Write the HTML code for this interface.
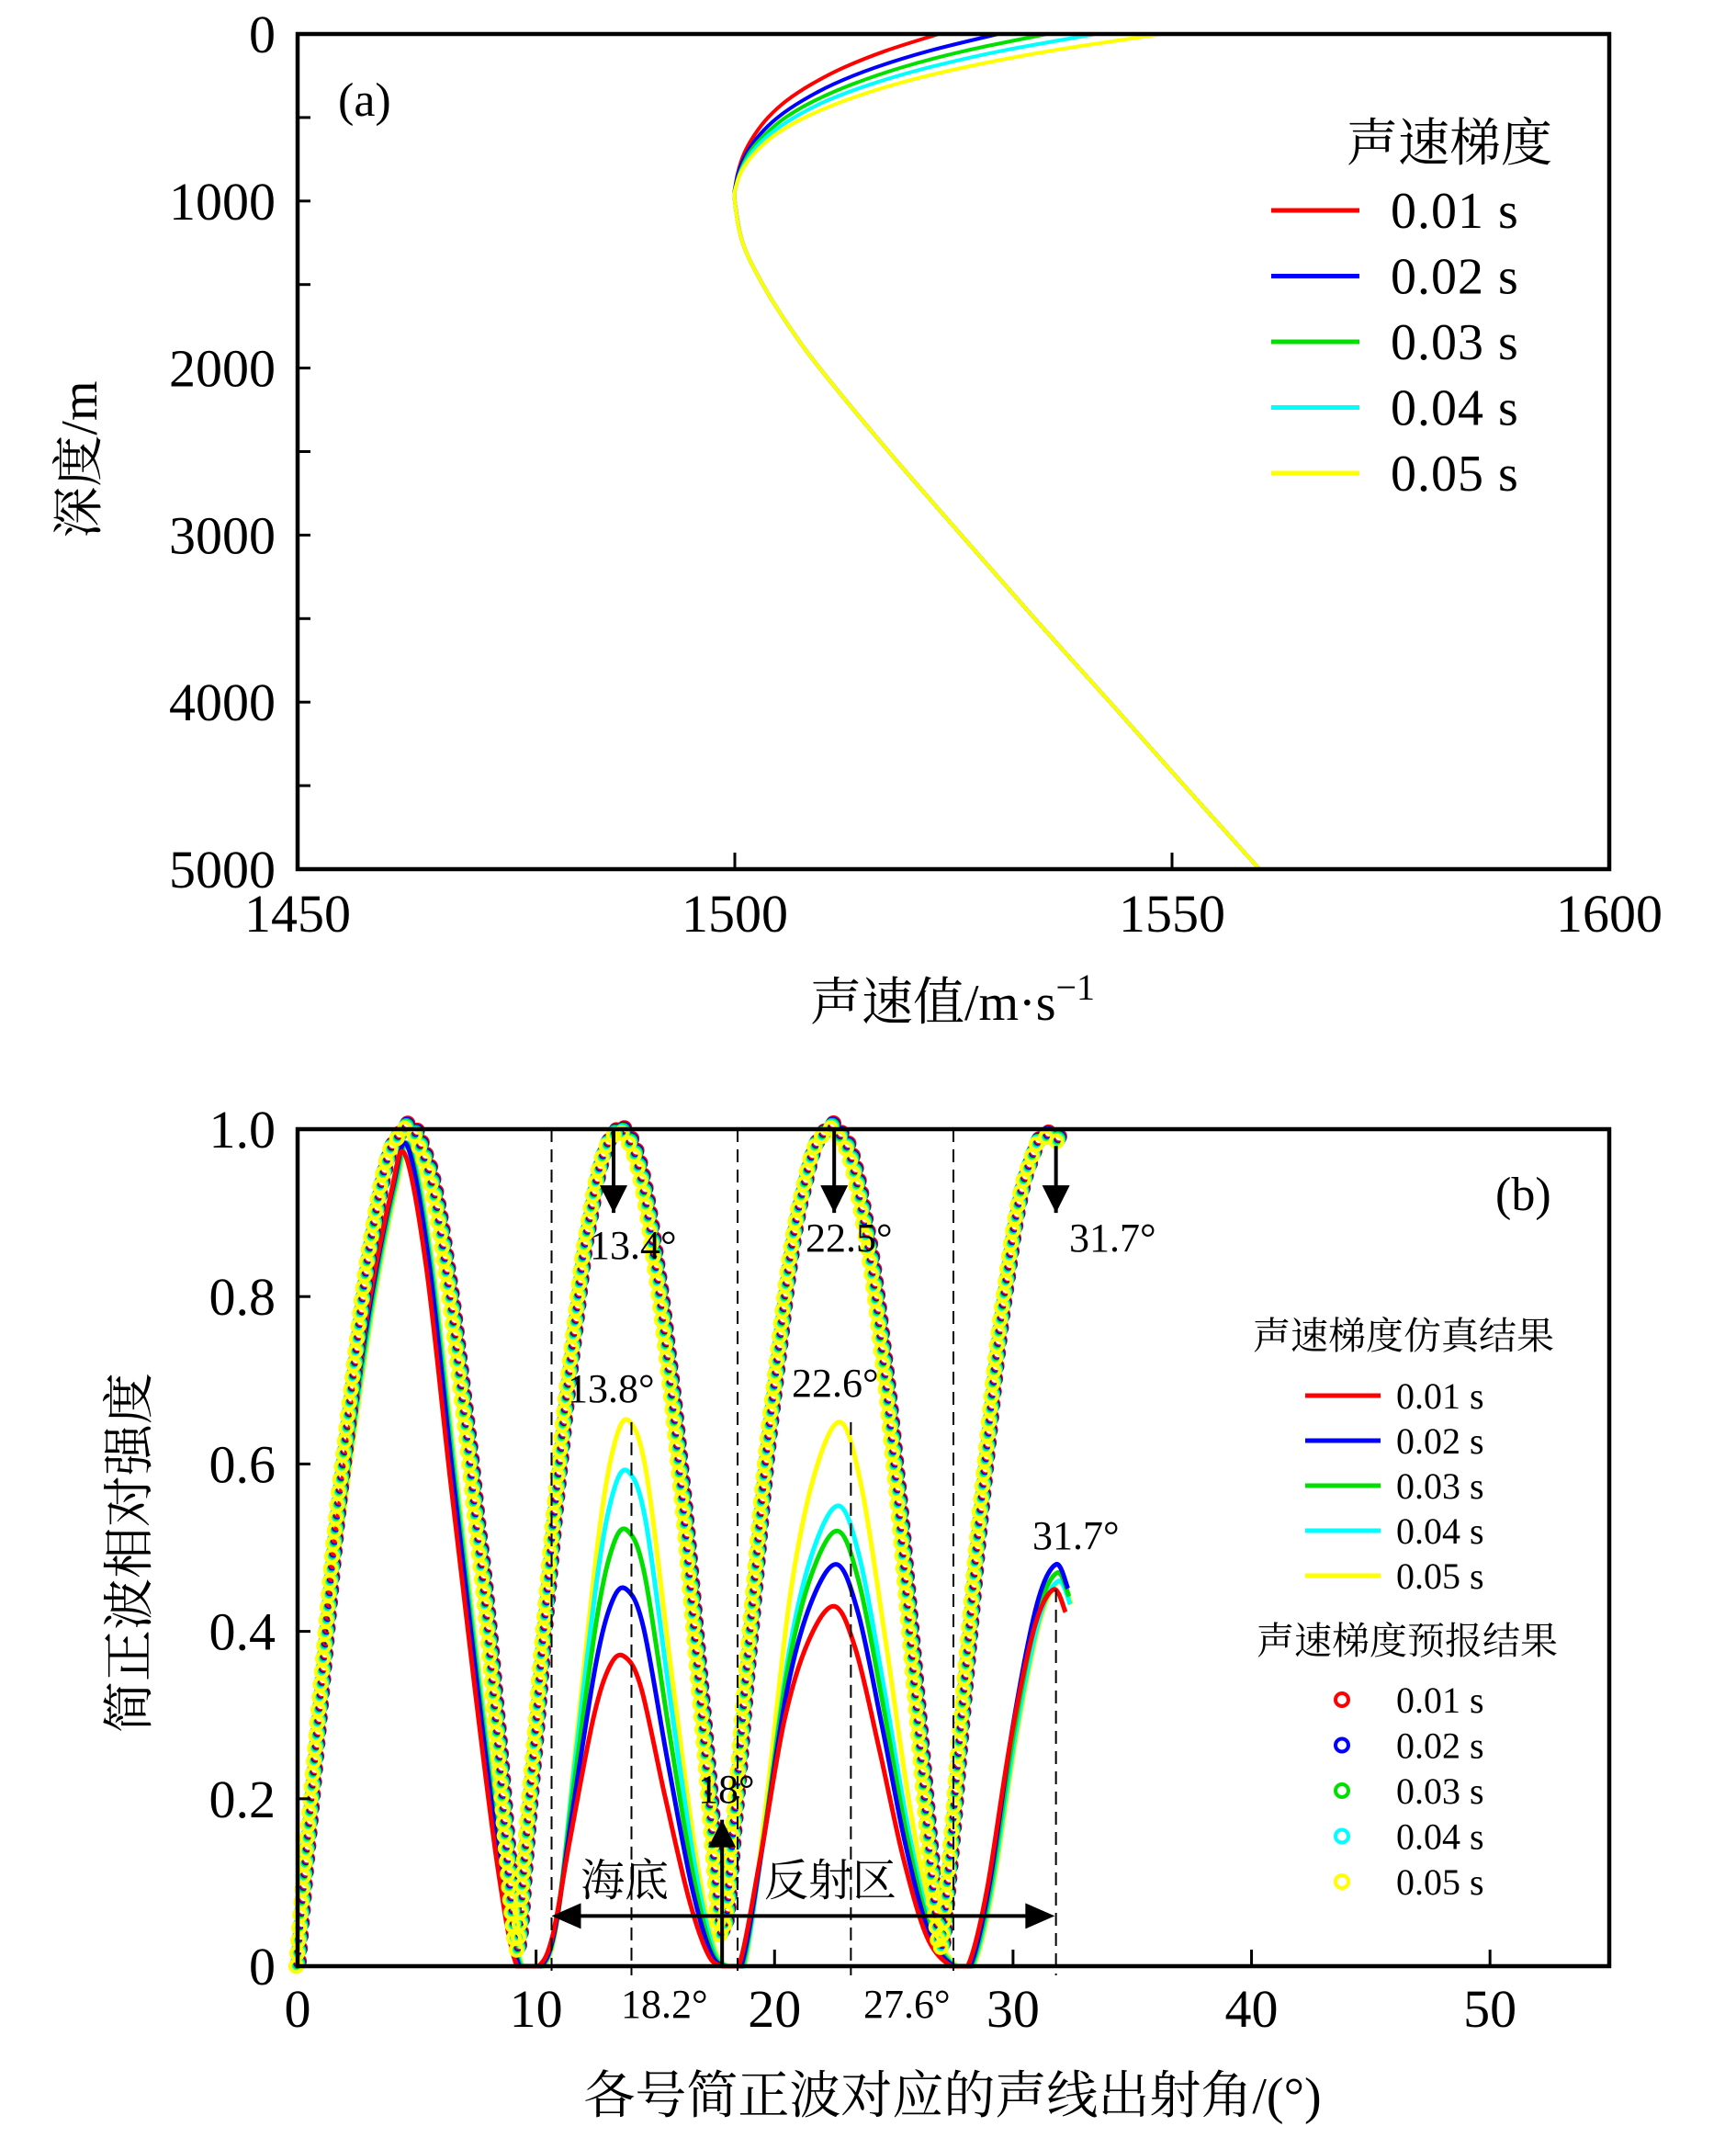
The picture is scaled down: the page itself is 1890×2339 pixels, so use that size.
<!DOCTYPE html>
<html><head><meta charset="utf-8"><style>
html,body{margin:0;padding:0;background:#fff;}
svg{display:block;font-family:"Liberation Serif","Noto Serif CJK SC",serif;}
</style></head><body>
<svg id="fig" width="1890" height="2339" viewBox="0 0 1890 2339" xmlns="http://www.w3.org/2000/svg">
<g id="pa"></g>
<g id="pb"></g>
</svg>
<script>
// ---------- Panel (a) data ----------
const aSeriesNames = ["0.01 s","0.02 s","0.03 s","0.04 s","0.05 s"];
const aColors = ["#ff0000","#0000ff","#00e000","#00ffff","#ffff00"];
const aUpperDepths = [0,100,200,300,400,500,600,700,800,900,1000];
const aUpperRed    = [23.3,17.3,12.5,8.8,5.9,3.8,2.3,1.2,0.5,0.1,0];
const aUpperBlue   = [30.1,22.3,16.1,11.3,7.7,4.9,2.9,1.5,0.6,0.1,0];
const aUpperGreen  = [35.7,26.4,19.1,13.5,9.1,5.8,3.5,1.8,0.8,0.2,0];
const aUpperCyan   = [41.3,30.6,22.2,15.6,10.5,6.8,4.0,2.1,0.9,0.2,0];
const aUpperYellow = [48.9,36.2,26.2,18.4,12.5,8.0,4.7,2.5,1.0,0.2,0];
const aLowerDepths = [1250,1500,1750,2000,2500,3000,3500,4000,4500,5000];
const aLowerSpeedOffset = [0.9,3.2,6.2,9.7,17.6,25.9,34.3,42.9,51.4,60.0];
const aBaseSpeed = 1500;
const aXTicks = [1450,1500,1550,1600];
const aYTicks = [0,1000,2000,3000,4000,5000];

// ---------- Panel (b) data ----------
const bNames = ["0.01 s","0.02 s","0.03 s","0.04 s","0.05 s"];
const bColors = ["#ff0000","#0000ff","#00e000","#00ffff","#ffff00"];
const bCircleX = [0,0.25,0.5,0.75,1,1.25,1.5,1.75,2,2.25,2.5,2.75,3,3.25,3.5,3.75,4,4.25,4.5,4.75,5,5.25,5.5,5.75,6,6.25,6.5,6.75,7,7.25,7.5,7.75,8,8.25,8.5,8.75,9,9.25,9.5,9.75,10,10.25,10.5,10.75,11,11.25,11.5,11.75,12,12.25,12.5,12.75,13,13.25,13.5,13.75,14,14.25,14.5,14.75,15,15.25,15.5,15.75,16,16.25,16.5,16.75,17,17.25,17.5,17.75,18,18.25,18.5,18.75,19,19.25,19.5,19.75,20,20.25,20.5,20.75,21,21.25,21.5,21.75,22,22.25,22.5,22.75,23,23.25,23.5,23.75,24,24.25,24.5,24.75,25,25.25,25.5,25.75,26,26.25,26.5,26.75,27,27.25,27.5,27.75,28,28.25,28.5,28.75,29,29.25,29.5,29.75,30,30.25,30.5,30.75,31,31.25,31.5,31.75,32];
const bCircleY = [0,0.09,0.17,0.25,0.33,0.41,0.49,0.56,0.62,0.68,0.74,0.80,0.85,0.89,0.93,0.96,0.98,0.99,1.0,1.0,0.99,0.97,0.95,0.92,0.88,0.83,0.78,0.72,0.66,0.60,0.53,0.47,0.40,0.32,0.24,0.15,0.07,0.02,0.11,0.20,0.28,0.37,0.45,0.53,0.60,0.67,0.73,0.79,0.85,0.89,0.93,0.96,0.98,0.99,1.0,0.99,0.98,0.96,0.93,0.89,0.84,0.79,0.73,0.67,0.60,0.53,0.45,0.37,0.29,0.21,0.12,0.04,0.06,0.15,0.23,0.32,0.40,0.48,0.56,0.63,0.69,0.75,0.81,0.86,0.90,0.93,0.96,0.98,0.99,1.0,1.0,0.99,0.98,0.96,0.93,0.89,0.85,0.80,0.74,0.68,0.61,0.54,0.46,0.38,0.30,0.22,0.14,0.07,0.02,0.09,0.17,0.26,0.34,0.42,0.50,0.57,0.64,0.71,0.77,0.82,0.87,0.91,0.94,0.96,0.98,0.99,0.99,0.99,0.98];
const bCircleShift = [0.06,0.03,0,-0.03,-0.06];
const bCircleLift = [-0.006,-0.0045,-0.003,-0.0015,0];
const bSimX = [1.1,2,3,4,4.6,5.5,6.5,7.5,8.5,9.3,10.2,10.8,11.5,12.5,13.2,13.8,14.5,15.5,16.5,17.3,17.9,18.6,19.5,20.5,21.5,22.6,23.5,24.5,25.5,26.5,27.5,28.2,29,30,31,31.8,32.3];
const bSimArch = [1,1,1,1,1,1,1,1,1,1,2,2,2,2,2,2,2,2,2,2,2,3,3,3,3,3,3,3,3,3,3,4,4,4,4,4,4];
const bSimShape = [0.39,0.6,0.8,0.95,1.0,0.86,0.6,0.35,0.12,0.0,0.0,0.1,0.4,0.8,0.97,1.0,0.9,0.55,0.22,0.04,0.0,0.0,0.3,0.68,0.9,1.0,0.88,0.6,0.3,0.08,0.0,0.0,0.2,0.6,0.9,1.0,0.94];
const bArch1Peak = [0.97,0.98,0.98,0.98,0.98];
const bArch2Peak = [0.37,0.45,0.52,0.59,0.65];
const bArch3Peak = [0.43,0.48,0.52,0.55,0.65];
const bArch4Peak = [0.45,0.48,0.47,0.46,0.46];
const bSimShift = [-0.1,0,0.05,0.1,0.15];
const bXTicks = [0,10,20,30,40,50];
const bYTicks = [0,0.2,0.4,0.6,0.8,1.0];
const bYTickLabels = ["0","0.2","0.4","0.6","0.8","1.0"];

const NS="http://www.w3.org/2000/svg";
function mk(parent,tag,attrs,text){const e=document.createElementNS(NS,tag);for(const k in attrs)e.setAttribute(k,attrs[k]);if(text!==undefined)e.textContent=text;parent.appendChild(e);return e;}
function splinePath(pts,maxY){let d=`M${pts[0][0]},${pts[0][1]}`;for(let i=0;i<pts.length-1;i++){const p0=pts[Math.max(0,i-1)],p1=pts[i],p2=pts[i+1],p3=pts[Math.min(pts.length-1,i+2)];let c1=[p1[0]+(p2[0]-p0[0])/6,p1[1]+(p2[1]-p0[1])/6],c2=[p2[0]-(p3[0]-p1[0])/6,p2[1]-(p3[1]-p1[1])/6];if(maxY!==undefined){c1[1]=Math.min(c1[1],maxY);c2[1]=Math.min(c2[1],maxY);}d+=` C${c1[0]},${c1[1]} ${c2[0]},${c2[1]} ${p2[0]},${p2[1]}`;}return d;}

// ---------- Panel (a) ----------
const pa=document.getElementById('pa');
const aL=324,aR=1752,aT=37,aB=946;
const ax=v=>aL+(v-1450)/150*(aR-aL);
const ay=d=>aT+d/5000*(aB-aT);
const aUppers=[aUpperRed,aUpperBlue,aUpperGreen,aUpperCyan,aUpperYellow];
const aPlot=mk(pa,'g',{});


for(let s=0;s<5;s++){
  const pts=[];
  aUpperDepths.forEach((d,i)=>pts.push([ax(aBaseSpeed+aUppers[s][i]),ay(d)]));
  aLowerDepths.forEach((d,i)=>pts.push([ax(aBaseSpeed+aLowerSpeedOffset[i]),ay(d)]));
  const p=mk(aPlot,'path',{d:splinePath(pts),fill:'none',stroke:aColors[s],'stroke-width':4});
  
  
}
const aFrame=mk(pa,'rect',{x:aL,y:aT,width:aR-aL,height:aB-aT,fill:'none',stroke:'#000','stroke-width':4.5});


aXTicks.forEach(v=>{
  mk(pa,'line',{x1:ax(v),x2:ax(v),y1:aB,y2:aB-18,stroke:'#000','stroke-width':3});
  const t=mk(pa,'text',{x:ax(v),y:aB+68,'text-anchor':'middle','font-size':58},String(v));
  
  
});
for(let d=0;d<=5000;d+=500){mk(pa,'line',{x1:aL,x2:aL+14,y1:ay(d),y2:ay(d),stroke:'#000','stroke-width':3});}
aYTicks.forEach(v=>{
  const t=mk(pa,'text',{x:300,y:ay(v)+20,'text-anchor':'end','font-size':58},String(v));
  
  
});
let t=mk(pa,'text',{x:368,y:126,'font-size':52},'(a)');

t=mk(pa,'text',{x:1037,y:1110,'text-anchor':'middle','font-size':56},'声速值/m·s');

mk(t,'tspan',{dy:-22,'font-size':40},'−1');
t=mk(pa,'text',{x:0,y:0,'text-anchor':'middle','font-size':56,transform:'translate(105,500) rotate(-90)'},'深度/m');

const aLeg=mk(pa,'g',{});

t=mk(aLeg,'text',{x:1466,y:175,'font-size':56},'声速梯度');

aSeriesNames.forEach((n,i)=>{
  const y=229+i*71.5;
  const g=mk(aLeg,'g',{});
  
  mk(g,'line',{x1:1384,x2:1480,y1:y,y2:y,stroke:aColors[i],'stroke-width':5});
  mk(g,'text',{x:1514,y:y+19,'font-size':56,'letter-spacing':1},n.replace(' ','  '));
});

// ---------- Panel (b) ----------
const pb=document.getElementById('pb');
const bL=324,bR=1752,bT=1229,bB=2140;
const bx=v=>bL+v/55*(bR-bL);
const by=v=>bB-v*(bB-bT);
const peaks=[bArch1Peak,bArch2Peak,bArch3Peak,bArch4Peak];
const simG=mk(pb,'g',{});

for(let s=4;s>=0;s--){
  const pts=bSimX.map((x,i)=>[bx(x+bSimShift[s]),by(bSimShape[i]*peaks[bSimArch[i]-1][s])]);
  const p=mk(simG,'path',{d:splinePath(pts,bB),fill:'none',stroke:bColors[s],'stroke-width':5});
  
}
const circG=mk(pb,'g',{});

for(let s=0;s<5;s++){
  const pts=bCircleX.map((x,i)=>[bx(x+bCircleShift[s]),by(bCircleY[i]-bCircleLift[s])]);
  const guide=mk(circG,'path',{d:splinePath(pts,bB),fill:'none',stroke:'none'});
  const L=guide.getTotalLength();
  for(let l=0;l<=L;l+=14){
    const p=guide.getPointAtLength(l);
    const c=mk(circG,'circle',{cx:p.x,cy:p.y,r:6.5,fill:'none',stroke:bColors[s],'stroke-width':4});
    
    
  }
  guide.remove();
}
const dash=[[10.65,1.0,0],[14.0,0.65,0],[18.45,1.0,0],[23.2,0.65,0],[27.5,1.0,0],[31.8,0.45,0]];
dash.forEach(d=>{const l=mk(pb,'line',{x1:bx(d[0]),x2:bx(d[0]),y1:by(d[1]),y2:by(d[2])+10,stroke:'#000','stroke-width':2,'stroke-dasharray':'14,8'});
});
function arrow(x,y1,y2){mk(pb,'line',{x1:x,x2:x,y1:y1,y2:y2,stroke:'#000','stroke-width':4});const dir=y2>y1?1:-1;mk(pb,'polygon',{points:`${x-15},${y2-dir*30} ${x+15},${y2-dir*30} ${x},${y2}`,fill:'#000'});}
arrow(bx(13.25),by(1.0),by(0.9));
arrow(bx(22.5),by(1.0),by(0.9));
arrow(bx(31.8),by(0.98),by(0.9));
arrow(bx(17.8),by(0),by(0.175));
const ha=by(0.06);
mk(pb,'line',{x1:bx(11),x2:bx(31.3),y1:ha,y2:ha,stroke:'#000','stroke-width':4});
mk(pb,'polygon',{points:`${bx(10.65)},${ha} ${bx(10.65)+32},${ha-14} ${bx(10.65)+32},${ha+14}`,fill:'#000'});
mk(pb,'polygon',{points:`${bx(31.75)},${ha} ${bx(31.75)-32},${ha-14} ${bx(31.75)-32},${ha+14}`,fill:'#000'});
const ann=[["13.4°",642,1370],["22.5°",877,1362],["31.7°",1164,1362],["13.8°",618,1526],["22.6°",862,1520],["31.7°",1124,1686],["18°",760,1962],["18.2°",676,2196],["27.6°",940,2196]];
ann.forEach(a=>{const e=mk(pb,'text',{x:a[1],y:a[2],'font-size':44},a[0]);});
t=mk(pb,'text',{x:632,y:2063,'font-size':48},'海底');
t=mk(pb,'text',{x:832,y:2063,'font-size':48},'反射区');
const bFrame=mk(pb,'rect',{x:bL,y:bT,width:bR-bL,height:bB-bT,fill:'none',stroke:'#000','stroke-width':4.5});

bXTicks.forEach(v=>{
  mk(pb,'line',{x1:bx(v),x2:bx(v),y1:bB,y2:bB-18,stroke:'#000','stroke-width':3});
  const e=mk(pb,'text',{x:bx(v),y:bB+66,'text-anchor':'middle','font-size':58},String(v));
  
});
for(let k=0;k<=10;k++){const v=k/10;mk(pb,'line',{x1:bL,x2:bL+(k%2?0:14),y1:by(v),y2:by(v),stroke:'#000','stroke-width':3});}
bYTicks.forEach((v,i)=>{
  const e=mk(pb,'text',{x:300,y:by(v)+20,'text-anchor':'end','font-size':58},bYTickLabels[i]);
  
});
t=mk(pb,'text',{x:1628,y:1317,'font-size':52},'(b)');
t=mk(pb,'text',{x:1037,y:2300,'text-anchor':'middle','font-size':56},'各号简正波对应的声线出射角/(°)');

t=mk(pb,'text',{x:0,y:0,'text-anchor':'middle','font-size':56,transform:'translate(160,1690) rotate(-90)'},'简正波相对强度');

const bLeg=mk(pb,'g',{});

t=mk(bLeg,'text',{x:1364,y:1468,'font-size':41},'声速梯度仿真结果');
bNames.forEach((n,i)=>{const y=1519+i*49;const g=mk(bLeg,'g',{});
  
  mk(g,'line',{x1:1421,x2:1503,y1:y,y2:y,stroke:bColors[i],'stroke-width':5});
  mk(g,'text',{x:1520,y:y+14,'font-size':40},n.replace(' ','  '));});
t=mk(bLeg,'text',{x:1368,y:1800,'font-size':41},'声速梯度预报结果');
bNames.forEach((n,i)=>{const y=1850+i*49.5;const g=mk(bLeg,'g',{});
  
  mk(g,'circle',{cx:1461,cy:y,r:7,fill:'none',stroke:bColors[i],'stroke-width':4});
  mk(g,'text',{x:1520,y:y+14,'font-size':40},n.replace(' ','  '));});
</script>
</body></html>
